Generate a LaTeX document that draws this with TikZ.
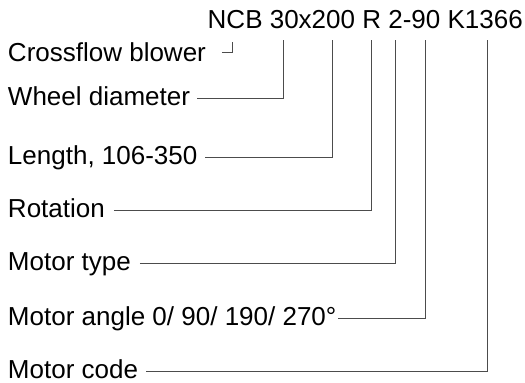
\documentclass[tikz,border=0pt]{standalone}
\usepackage{fontspec}
\setmainfont{Liberation Sans}
\begin{document}
\begin{tikzpicture}[x=1pt,y=-1pt,
  lbl/.style={anchor=base west, inner xsep=0pt, inner ysep=0pt, outer sep=0pt,
    text height=13pt, text depth=0pt, font=\fontsize{26}{26}\selectfont},
  ln/.style={draw=black!70, line width=0.9pt}]
\useasboundingbox (0,0) rectangle (525,383);
\node[anchor=base east, inner sep=0pt, font=\fontsize{26}{26}\selectfont] (code) at (523,28) {NCB 30x200 R 2-90 K1366};
% label nodes
\node[lbl] (cb) at (8,61) {Crossflow blower};
\node[lbl] (wd) at (8,105) {Wheel diameter};
\node[lbl] (le) at (8,164) {Length, 106-350};
\node[lbl] (ro) at (8,217) {Rotation};
\node[lbl] (mt) at (8,270) {Motor type};
\node[lbl] (ma) at (8,325) {Motor angle 0/ 90/ 190/ 270°};
\node[lbl] (mc) at (8,378) {Motor code};
% tops of the leaders under the code
\coordinate (t1) at (232,42);
\coordinate (t2) at (283.5,40);
\coordinate (t3) at (332.5,40);
\coordinate (t4) at (371.5,40);
\coordinate (t5) at (395.5,40);
\coordinate (t6) at (425.5,40);
\coordinate (t7) at (487,40);
% leaders
\draw[ln] ([xshift=16pt,yshift=2.5pt]cb.east) -| (t1);
\draw[ln] ([xshift=7pt]wd.east) -| (t2);
\draw[ln] ([xshift=8pt]le.east) -| (t3);
\draw[ln] ([xshift=9pt]ro.east) -| (t4);
\draw[ln] ([xshift=9pt]mt.east) -| (t5);
\draw[ln] ([xshift=2pt]ma.east) -| (t6);
\draw[ln] ([xshift=8pt]mc.east) -| (t7);
\end{tikzpicture}
\end{document}
